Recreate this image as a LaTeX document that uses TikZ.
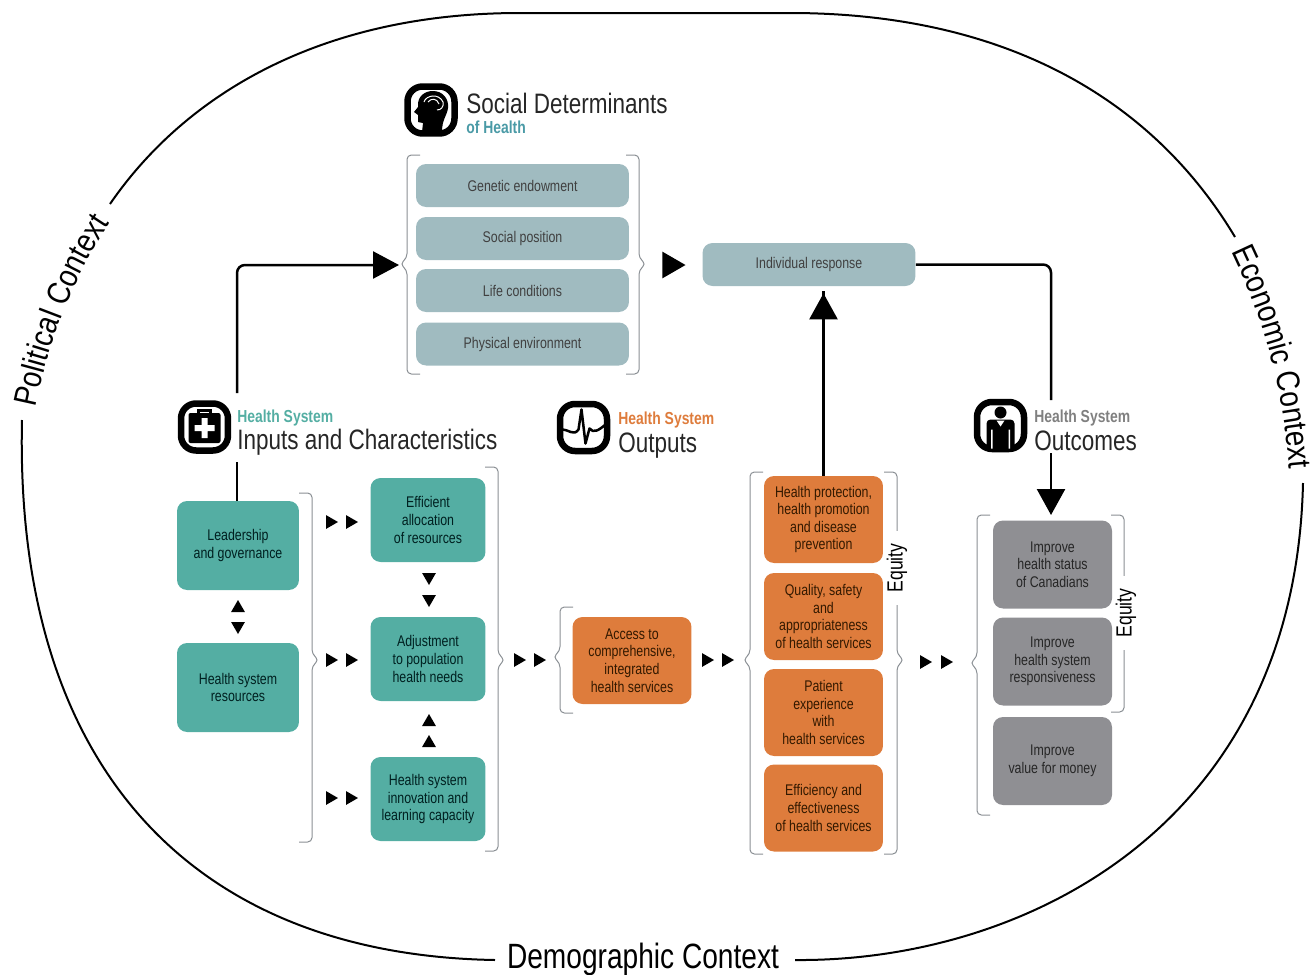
\documentclass[tikz,border=0pt]{standalone}
\usepackage{fontspec}
\setmainfont[FakeStretch=0.8]{Liberation Sans}
\newfontfamily\polfont[FakeStretch=0.86]{Liberation Sans}
\usepackage{tikz}
\usetikzlibrary{arrows.meta,decorations.text,shapes.geometric}

\definecolor{sdfill}{HTML}{A0BBC0}
\definecolor{tealfill}{HTML}{54AEA3}
\definecolor{orangefill}{HTML}{DE7C3C}
\definecolor{greyfill}{HTML}{8F8F93}
\definecolor{sdhead}{HTML}{4A9AA6}
\definecolor{brakline}{HTML}{8A8F94}

\tikzset{
  box/.style={rounded corners=0.2cm,inner sep=0pt,align=center,font=\fontsize{8.8}{10}\selectfont},
  sdbox/.style={box,fill=sdfill,text=black!75,minimum width=4.26cm,minimum height=0.86cm},
  tealbox/.style={box,fill=tealfill,text=black!75!teal,minimum width=2.3cm,minimum height=1.68cm},
  tealbig/.style={tealbox,minimum width=2.44cm,minimum height=1.78cm},
  orbox/.style={box,fill=orangefill,text=black!80!orange,minimum width=2.38cm,minimum height=1.74cm},
  grbox/.style={box,fill=greyfill,text=black!85,minimum width=2.38cm,minimum height=1.76cm},
  headbig/.style={anchor=base west,inner sep=0pt,text=black!85,font=\fontsize{16}{16}\selectfont},
  headsmall/.style={anchor=base west,inner sep=0pt,font=\bfseries\fontsize{9.9}{10}\selectfont},
  ctxline/.style={line width=0.04cm},
  conn/.style={line width=0.05cm,rounded corners=0.16cm},
  brak/.style={draw=brakline,line width=0.02cm,rounded corners=2.5pt},
  tri/.style={regular polygon,regular polygon sides=3,fill=black,inner sep=0pt,minimum size=0.32cm},
  bigtri/.style={tri,minimum size=0.62cm},
  frame/.style={draw=black,line width=0.13cm,fill=white,rounded corners=0.3cm,minimum size=0.94cm,inner sep=0pt},
  equity/.style={rotate=90,fill=white,inner xsep=0.26cm,inner ysep=0pt,font=\fontsize{12.5}{13}\selectfont}
}

% stem x, top, bottom, tip y, side (+1 right, -1 left)
\newcommand{\bracket}[5]{
\draw [brak] ({#1-13*#5},-#2) -- (#1,-#2) -- (#1,{-#4+6}) -- ({#1+7*#5},-#4) -- (#1,{-#4-6}) -- (#1,-#3) -- ({#1-13*#5},-#3);
}

\begin{document}
\begin{tikzpicture}[x=0.02cm,y=0.02cm]
\useasboundingbox (0,0) rectangle (1315,-974);

% context ring
\draw [ctxline] (110,-204) .. controls (185,-95) and (320,-13) .. (520,-13) -- (790,-13) .. controls (1000,-13) and (1150,-95) .. (1235,-237);
\draw [ctxline] (22,-420) .. controls (14,-770) and (195,-955) .. (495,-960);
\draw [ctxline] (795,-960) .. controls (1020,-962) and (1295,-830) .. (1303,-483);
\path [decorate,decoration={text along path,text align=center,text={|\polfont\fontsize{18.5}{19}\selectfont|Political Context}}] (32,-425) .. controls (46,-345) and (75,-270) .. (120,-208);
\path [decorate,decoration={text along path,text align=center,text={|\polfont\fontsize{18.5}{19}\selectfont|Economic Context}}] (1224,-236) .. controls (1256,-300) and (1283,-370) .. (1291,-486);
\node [anchor=base,inner sep=0pt,font=\fontsize{20}{20}\selectfont] (demog) at (643,-968) {Demographic Context};

% social determinants
\node [sdbox] (genetic) at (522.5,-185.5) {Genetic endowment};
\node [sdbox] (social) at (522.5,-238.5) {Social position};
\node [sdbox] (life) at (522.5,-290.5) {Life conditions};
\node [sdbox] (physical) at (522.5,-344) {Physical environment};
\node [sdbox] (indiv) at (809,-264.5) {Individual response};
\bracket{407}{155}{374}{264}{-1}
\bracket{639}{155}{374}{264}{1}
\node [bigtri,shape border rotate=-90] (sdtri) at (670,-265) {};

% inputs
\node [tealbig] (leader) at (238,-545.5) {Leadership\\and governance};
\node [tealbig] (resource) at (238,-687.5) {Health system\\resources};
\node [tealbox] (effic) at (428,-520) {Efficient\\allocation\\of resources};
\node [tealbox] (adjust) at (428,-659) {Adjustment\\to population\\health needs};
\node [tealbox] (innov) at (428,-799) {Health system\\innovation and\\learning capacity};
\bracket{312}{493}{842}{660}{1}
\bracket{498}{467}{851}{660}{1}

% outputs
\node [orbox] (access) at (632,-660.5) {Access to\\comprehensive,\\integrated\\health services};
\node [orbox] (protect) at (823.5,-519.5) {Health protection,\\health promotion\\and disease\\prevention};
\node [orbox] (quality) at (823.5,-616.5) {Quality, safety\\and\\appropriateness\\of health services};
\node [orbox] (patient) at (823.5,-712.5) {Patient\\experience\\with\\health services};
\node [orbox] (effect) at (823.5,-808) {Efficiency and\\effectiveness\\of health services};
\bracket{560}{607}{713}{657}{-1}
\bracket{750}{472}{854}{660}{-1}
\bracket{897}{472}{854}{660}{1}
\node [equity] (eqout) at (897,-568) {Equity};

% outcomes
\bracket{977}{515}{815}{663}{-1}
\bracket{1124}{515}{712}{613}{1}
\node [equity] (eqres) at (1126,-613) {Equity};
\node [grbox] (status) at (1052.5,-564.5) {Improve\\health status\\of Canadians};
\node [grbox] (respon) at (1052.5,-661.5) {Improve\\health system\\responsiveness};
\node [grbox] (value) at (1052.5,-761) {Improve\\value for money};

% small paired triangles
\foreach \tx/\ty [count=\i] in {330/522,350/522,330/660,350/660,330/798,350/798,518/660,538/660,706/660,726/660,924/662,945/662}
  \node [tri,shape border rotate=-90] (trih\i) at (\tx,-\ty) {};
\foreach \tx/\ty [count=\i] in {429/577,429/599,238/626}
  \node [tri,shape border rotate=180] (trid\i) at (\tx,-\ty) {};
\foreach \tx/\ty [count=\i] in {429/722,429/743,238/608}
  \node [tri] (triu\i) at (\tx,-\ty) {};

% headings
\node [frame] (iconsoc) at (431,-110) {};
\node [headbig] (hdsoc) at (466,-113) {Social Determinants};
\node [headsmall,text=sdhead] (hdsocb) at (466,-133) {of Health};
\node [frame] (iconin) at (204.5,-427) {};
\node [headsmall,text=tealfill] (hdin) at (237,-422) {Health System};
\node [headbig] (hdinb) at (237,-449) {Inputs and Characteristics};
\node [frame] (iconout) at (583.5,-427.5) {};
\node [headsmall,text=orangefill] (hdout) at (618,-424) {Health System};
\node [headbig] (hdoutb) at (618,-452) {Outputs};
\node [frame] (iconres) at (1000.5,-425.5) {};
\node [headsmall,text=black!50] (hdres) at (1034,-422) {Health System};
\node [headbig] (hdresb) at (1034,-450) {Outcomes};

% head
\begin{scope}[shift={(431,-110)}]
\fill (-9,-22) -- (-8,-13) -- (-13,-12) -- (-13,-5) -- (-17,-2) -- (-13,3) .. controls (-14,14) and (-6,19) .. (2,19) .. controls (12,19) and (18,11) .. (17,2) .. controls (16,-6) and (11,-9) .. (11,-22) -- cycle;
\draw [white,line width=0.02cm] (-7,8) .. controls (-5,15) and (8,17) .. (12,8) .. controls (13,3) and (10,0) .. (6,0);
\draw [white,line width=0.02cm] (-3,8) .. controls (0,12) and (6,12) .. (8,6);
\end{scope}

% case
\begin{scope}[shift={(204.5,-427)}]
\draw [line width=0.06cm] (-6,13) -- (-6,17) -- (6,17) -- (6,13);
\fill [rounded corners=0.04cm] (-16,-16) rectangle (16,14);
\fill [white] (-3,-11) rectangle (3,9) (-10,-4) rectangle (10,2);
\end{scope}

% pulse
\begin{scope}[shift={(583.5,-427.5)}]
\draw [line width=0.05cm,line join=round] (-22,-2) .. controls (-14,-2) and (-10,-9) .. (-5,-2) -- (-2,18) -- (2,-16) -- (6,-1) .. controls (10,-6) and (15,-3) .. (22,3);
\end{scope}

% person
\begin{scope}[shift={(1000.5,-425.5)}]
\fill (0,13) circle (6);
\fill [rounded corners=0.08cm] (-14,-23) -- (-14,6) -- (14,6) -- (14,-23) -- cycle;
\fill [white] (-9.5,-23) rectangle (-8,-4) (8,-23) rectangle (9.5,-4);
\fill [white] (-4,5) -- (4,5) -- (0,-1) -- cycle;
\end{scope}

% main connectors
\coordinate (inturn) at (237,-265);
\coordinate (ingapa) at (237,-462);
\coordinate (ingapb) at (237,-393);
\coordinate (sdtip) at (399,-265);
\coordinate (resgapa) at (1051,-400);
\coordinate (resgapb) at (1051,-453);
\coordinate (restip) at (1051,-515);
\draw [conn] (leader.north -| ingapa) -- (ingapa);
\draw [conn,-{Triangle[length=0.52cm,width=0.54cm]}] (ingapb) -- (inturn) -- (sdtip);
\draw [conn,-{Triangle[length=0.52cm,width=0.56cm]}] (protect.north) -- (protect.north |- indiv.south) -- ++(0,-7);
\draw [conn] (indiv.east) -- (indiv.east -| resgapa) -- (resgapa);
\draw [conn,-{Triangle[length=0.52cm,width=0.56cm]}] (resgapb) -- (restip);
\end{tikzpicture}
\end{document}
